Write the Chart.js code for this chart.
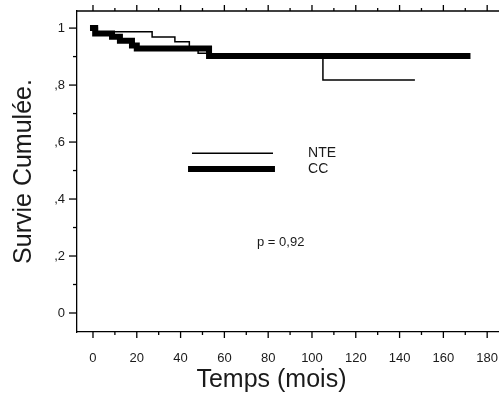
<!DOCTYPE html>
<html><head><meta charset="utf-8">
<script src="https://cdn.jsdelivr.net/npm/chart.js@4.4.1/dist/chart.umd.min.js"></script>
<style>html,body{margin:0;padding:0;background:#fff}</style>
</head><body>
<canvas id="c" width="499" height="403" style="display:block;width:499px;height:403px"></canvas>
<script>
// ---- data ----
const nteTime = [0, 2, 27, 37.4, 44, 48, 52.5, 105, 147];
const nteSurv = [1, 0.987, 0.969, 0.952, 0.932, 0.912, 0.90, 0.818, 0.818];
const ccTime  = [0, 1, 8.7, 12.3, 17.8, 20, 53, 171];
const ccSurv  = [1, 0.981, 0.970, 0.956, 0.939, 0.928, 0.902, 0.902];
const xTickLabels = [0, 20, 40, 60, 80, 100, 120, 140, 160, 180];
const yTickLabels = [0, 0.2, 0.4, 0.6, 0.8, 1];
const seriesNames = ['NTE', 'CC'];
const pValueText = 'p = 0,92';
const xTitle = 'Temps (mois)';
const yTitle = 'Survie Cumulée.';

// ---- layout/styling (in data units where placed on the plot) ----
const legendNte = {x0: 45.2, x1: 82.2, y: 0.561};
const legendCc  = {x0: 43.4, x1: 83.1, y: 0.505};
const legendTextX = 98.2;
const pText = {x: 74.9, y: 0.246};
const xTitleCenter = 81.5;
const FONT = "'Liberation Sans', Arial, sans-serif";
const TEXT = '#1a1a1a';

const toPts = (t, s) => t.map((v, i) => ({x: v, y: s[i]}));

const axesPlugin = {
  id: 'axesDecor',
  afterDraw(chart) {
    const ctx = chart.ctx, xs = chart.scales.x, ys = chart.scales.y, a = chart.chartArea;
    ctx.save();
    ctx.strokeStyle = '#000';
    ctx.lineWidth = 1.3;
    ctx.beginPath(); ctx.moveTo(a.left, a.top); ctx.lineTo(a.right, a.top); ctx.stroke();
    for (let v = 0; v <= 190; v += 10) {
      const px = xs.getPixelForValue(v);
      if (px > a.right) break;
      const L = v % 20 === 0 ? 6 : 3;
      ctx.beginPath();
      ctx.moveTo(px, a.bottom); ctx.lineTo(px, a.bottom + L);
      ctx.moveTo(px, a.top); ctx.lineTo(px, a.top - L);
      ctx.stroke();
    }
    for (let k = 0; k <= 10; k++) {
      const py = ys.getPixelForValue(k / 10);
      const L = k % 2 === 0 ? 8 : 4;
      ctx.beginPath(); ctx.moveTo(a.left, py); ctx.lineTo(a.left - L, py); ctx.stroke();
    }
    // legend
    ctx.lineCap = 'butt';
    ctx.lineWidth = 1.5;
    ctx.beginPath();
    ctx.moveTo(xs.getPixelForValue(legendNte.x0), ys.getPixelForValue(legendNte.y));
    ctx.lineTo(xs.getPixelForValue(legendNte.x1), ys.getPixelForValue(legendNte.y));
    ctx.stroke();
    ctx.lineWidth = 6;
    ctx.beginPath();
    ctx.moveTo(xs.getPixelForValue(legendCc.x0), ys.getPixelForValue(legendCc.y));
    ctx.lineTo(xs.getPixelForValue(legendCc.x1), ys.getPixelForValue(legendCc.y));
    ctx.stroke();
    ctx.fillStyle = TEXT;
    ctx.font = '14px ' + FONT;
    ctx.textAlign = 'left'; ctx.textBaseline = 'middle';
    ctx.fillText(seriesNames[0], xs.getPixelForValue(legendTextX), ys.getPixelForValue(legendNte.y));
    ctx.fillText(seriesNames[1], xs.getPixelForValue(legendTextX), ys.getPixelForValue(legendCc.y));
    ctx.font = '13px ' + FONT;
    ctx.fillText(pValueText, xs.getPixelForValue(pText.x), ys.getPixelForValue(pText.y));
    // x-axis title
    ctx.font = '25px ' + FONT;
    ctx.textAlign = 'center';
    ctx.fillText(xTitle, xs.getPixelForValue(xTitleCenter), 380);
    ctx.restore();
  }
};

const zeroPad = s => { s.paddingLeft = 0; s.paddingRight = 0; s.paddingTop = 0; s.paddingBottom = 0; };

new Chart(document.getElementById('c'), {
  type: 'line',
  data: {
    datasets: [
      {label: seriesNames[0], data: toPts(nteTime, nteSurv), stepped: 'before',
       borderColor: '#000', borderWidth: 1.5, pointRadius: 0, fill: false, clip: false},
      {label: seriesNames[1], data: toPts(ccTime, ccSurv), stepped: 'before',
       borderColor: '#000', borderWidth: 6, pointRadius: 0, fill: false, clip: false,
       borderCapStyle: 'square', borderJoinStyle: 'miter'}
    ]
  },
  options: {
    responsive: false,
    animation: false,
    devicePixelRatio: 1,
    layout: {padding: {top: 11, right: 0, left: 0, bottom: 0}},
    plugins: {legend: {display: false}, tooltip: {enabled: false}},
    scales: {
      x: {
        type: 'linear', min: -7.3, max: 185.4,
        afterBuildTicks: s => { s.ticks = xTickLabels.map(v => ({value: v})); },
        afterFit: s => { s.height = 71; zeroPad(s); },
        grid: {display: false, drawTicks: false},
        border: {display: true, color: '#000', width: 1.3},
        ticks: {padding: 19, color: TEXT, font: {family: FONT, size: 13}, autoSkip: false, maxRotation: 0,
                callback: v => String(v)},
        title: {display: false}
      },
      y: {
        type: 'linear', min: -0.0667, max: 1.06,
        afterBuildTicks: s => { s.ticks = yTickLabels.map(v => ({value: v})); },
        afterFit: s => { s.width = 77; zeroPad(s); },
        grid: {display: false, drawTicks: false},
        border: {display: true, color: '#000', width: 1.3},
        ticks: {padding: 12, color: TEXT, font: {family: FONT, size: 13},
                callback: v => v === 0 ? '0' : v === 1 ? '1' : ',' + Math.round(v * 10)},
        title: {display: true, text: yTitle, color: TEXT,
                font: {family: FONT, size: 25}, padding: {top: 9, bottom: 0}}
      }
    }
  },
  plugins: [axesPlugin]
});
</script>
</body></html>
